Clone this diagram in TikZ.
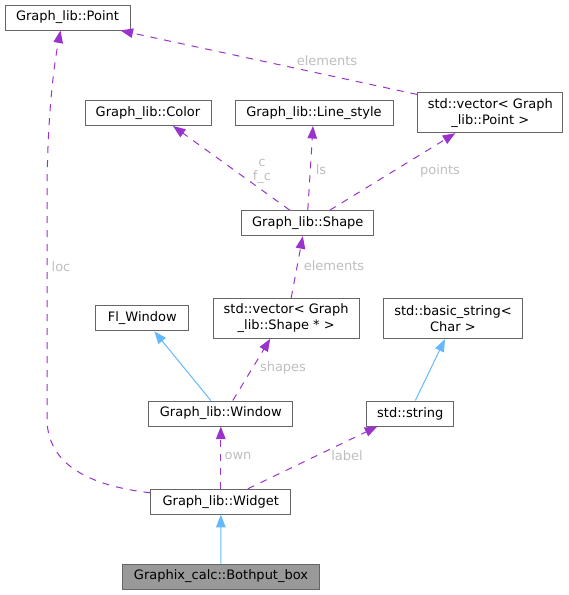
\documentclass[tikz,border=0pt]{standalone}
\usepackage{fontspec}
\setmainfont{DejaVu Sans}
\usetikzlibrary{arrows.meta}
\definecolor{edgepurple}{HTML}{9A32CD}
\definecolor{edgeblue}{HTML}{63B8FF}
\definecolor{boxgray}{HTML}{666666}
\definecolor{labelgray}{HTML}{BEBEBE}
\definecolor{mainfill}{HTML}{999999}
\begin{document}
\begin{tikzpicture}[x=1pt,y=-1pt,
  cls/.style={draw=boxgray, line width=1pt, fill=white, inner sep=0pt,
    minimum height=25pt, font=\fontsize{13}{16}\selectfont, align=center},
  twoline/.style={minimum height=40pt},
  usage/.style={draw=edgepurple, line width=1pt, dash pattern=on 7pt off 7pt,
    -{Triangle[length=12.5pt,width=9.5pt]}},
  inherit/.style={draw=edgeblue, line width=1pt,
    -{Triangle[length=12.5pt,width=9.5pt]}},
  elabel/.style={text=labelgray, inner sep=0pt, align=center,
    font=\fontsize{13}{14}\selectfont}]
\useasboundingbox (0,0) rectangle (569,595);

% nodes
\node[cls, minimum width=125pt] (point) at (67.5,17.5) {Graph\_lib::Point};
\node[cls, minimum width=126pt] (color) at (148,113) {Graph\_lib::Color};
\node[cls, minimum width=158pt] (lstyle) at (314,113) {Graph\_lib::Line\_style};
\node[cls, twoline, minimum width=145pt] (vecpoint) at (490.3,112.7) {std::vector\textless{} Graph\\\_lib::Point \textgreater{}};
\node[cls, minimum width=132pt] (shape) at (307.8,223.2) {Graph\_lib::Shape};
\node[cls, minimum width=93pt] (flwin) at (142.3,318.3) {Fl\_Window};
\node[cls, twoline, minimum width=145.7pt] (vecshape) at (286.2,318.3) {std::vector\textless{} Graph\\\_lib::Shape * \textgreater{}};
\node[cls, twoline, minimum width=139.4pt] (basicstr) at (453,318.6) {std::basic\_string\textless{}\\Char \textgreater{}};
\node[cls, minimum width=143.7pt] (window) at (220.8,413.5) {Graph\_lib::Window};
\node[cls, minimum width=87.3pt] (string) at (410.3,413.5) {std::string};
\node[cls, minimum width=139.7pt] (widget) at (220.8,501.8) {Graph\_lib::Widget};
\node[cls, minimum width=196.6pt, fill=mainfill] (both) at (221,576.5) {Graphix\_calc::Bothput\_box};

% edges
\draw[usage] ([yshift=-2.3pt]vecpoint.north west) -- ([xshift=-10pt]point.south east);
\draw[usage] ([xshift=-18pt]shape.north) -- ([xshift=25pt]color.south);
\draw[usage] (shape.north) -- ([xshift=-1pt]lstyle.south);
\draw[usage] ([xshift=22pt]shape.north) -- ([xshift=-35pt]vecpoint.south);
\draw[usage] ([xshift=5pt]vecshape.north) -- ([xshift=-5pt]shape.south);
\draw[inherit] ([xshift=-10pt]window.north) -- ([xshift=12pt]flwin.south);
\draw[usage] ([xshift=12pt]window.north) -- ([xshift=-16pt]vecshape.south);
\draw[inherit] ([xshift=5pt]string.north) -- ([xshift=-8pt]basicstr.south);
\draw[usage] (widget.north) -- (window.south);
\draw[usage] ([xshift=27pt]widget.north) -- ([xshift=-33pt]string.south);
\draw[inherit] (both.north) -- (widget.south);
\draw[usage] ([yshift=-4pt]widget.north west) .. controls (100,487) and (48,470) .. (47,420)
  -- (47,200) .. controls (47,110) and (55,60) .. ([xshift=-7pt]point.south);

% labels
\node[elabel] (l1) at (327,61) {elements};
\node[elabel] (l2) at (262,171) {c\\f\_c};
\node[elabel] (l3) at (321,170) {ls};
\node[elabel] (l4) at (440,171) {points};
\node[elabel] (l5) at (334,266) {elements};
\node[elabel] (l6) at (283,368) {shapes};
\node[elabel] (l7) at (61,267) {loc};
\node[elabel] (l8) at (238,456) {own};
\node[elabel] (l9) at (347,456) {label};
\end{tikzpicture}
\end{document}
